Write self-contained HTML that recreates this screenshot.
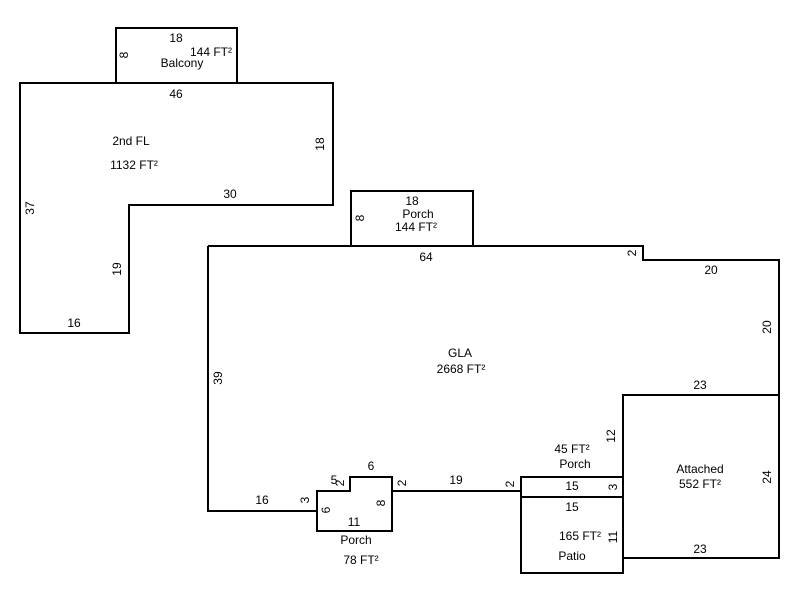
<!DOCTYPE html>
<html><head><style>body{margin:0;background:#fff}svg{display:block}text{font-family:"Liberation Sans",Arial,sans-serif;font-size:12px;fill:#000;text-anchor:middle}</style></head><body>
<svg width="800" height="600" viewBox="0 0 800 600">
<g fill="none" stroke="#000" stroke-width="2">
<rect x="116" y="28" width="121" height="55"/>
<path d="M20 83H333V205H129V333H20Z"/>
<rect x="351" y="191" width="122" height="55"/>
<path d="M208 246H643V260H779V395"/>
<path d="M208 246V511H317"/>
<path d="M317 491H350V477H392V531H317Z"/>
<path d="M392 491H521"/>
<rect x="521" y="477" width="102" height="96"/>
<path d="M521 497H623"/>
<rect x="623" y="395" width="156" height="163"/>
</g>
<text x="176" y="42">18</text>
<text x="211" y="56">144 FT²</text>
<text x="182" y="67">Balcony</text>
<text x="124" y="55" transform="rotate(-90 124 55)" dy="4">8</text>
<text x="176" y="98">46</text>
<text x="131" y="145">2nd FL</text>
<text x="134" y="169">1132 FT²</text>
<text x="320" y="144" transform="rotate(-90 320 144)" dy="4">18</text>
<text x="230" y="198">30</text>
<text x="30" y="208" transform="rotate(-90 30 208)" dy="4">37</text>
<text x="117" y="269" transform="rotate(-90 117 269)" dy="4">19</text>
<text x="74" y="327">16</text>
<text x="412" y="205">18</text>
<text x="418" y="218">Porch</text>
<text x="416" y="231">144 FT²</text>
<text x="360" y="218" transform="rotate(-90 360 218)" dy="4">8</text>
<text x="426" y="261">64</text>
<text x="632" y="253" transform="rotate(-90 632 253)" dy="4">2</text>
<text x="711" y="274">20</text>
<text x="767" y="327" transform="rotate(-90 767 327)" dy="4">20</text>
<text x="460" y="357">GLA</text>
<text x="461" y="373">2668 FT²</text>
<text x="218" y="378" transform="rotate(-90 218 378)" dy="4">39</text>
<text x="700" y="389">23</text>
<text x="611" y="436" transform="rotate(-90 611 436)" dy="4">12</text>
<text x="572" y="453">45 FT²</text>
<text x="575" y="468">Porch</text>
<text x="700" y="473">Attached</text>
<text x="700" y="488">552 FT²</text>
<text x="767" y="477" transform="rotate(-90 767 477)" dy="4">24</text>
<text x="371" y="470">6</text>
<text x="334" y="484">5</text>
<text x="340" y="483" transform="rotate(-90 340 483)" dy="4">2</text>
<text x="402" y="483" transform="rotate(-90 402 483)" dy="4">2</text>
<text x="456" y="484">19</text>
<text x="510" y="484" transform="rotate(-90 510 484)" dy="4">2</text>
<text x="572" y="490">15</text>
<text x="613" y="487" transform="rotate(-90 613 487)" dy="4">3</text>
<text x="262" y="504">16</text>
<text x="305" y="500" transform="rotate(-90 305 500)" dy="4">3</text>
<text x="326" y="510" transform="rotate(-90 326 510)" dy="4">6</text>
<text x="381" y="503" transform="rotate(-90 381 503)" dy="4">8</text>
<text x="572" y="511">15</text>
<text x="354" y="526">11</text>
<text x="580" y="540">165 FT²</text>
<text x="613" y="537" transform="rotate(-90 613 537)" dy="4">11</text>
<text x="356" y="544">Porch</text>
<text x="700" y="553">23</text>
<text x="572" y="560">Patio</text>
<text x="361" y="564">78 FT²</text>
</svg>
</body></html>
